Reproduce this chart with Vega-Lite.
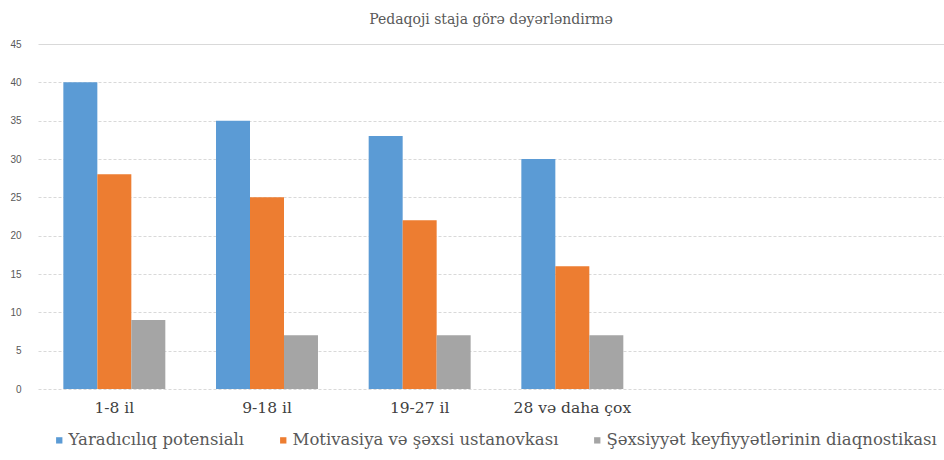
{
  "$schema": "https://vega.github.io/schema/vega-lite/v6.json",
  "width": 906,
  "height": 345,
  "autosize": {"type": "none"},
  "padding": {"left": 38, "top": 44, "right": 0, "bottom": 71},
  "background": "white",
  "title": {
    "text": "Pedaqoji staja görə dəyərləndirmə",
    "font": "DejaVu Serif",
    "fontSize": 14,
    "fontWeight": "normal",
    "color": "#595959",
    "offset": -2,
    "baseline": "bottom",
    "anchor": "middle",
    "frame": "group"
  },
  "data": {
    "values": [
      {"staj": "1-8 il", "kriteriya": "Yaradıcılıq potensialı", "deger": 40},
      {"staj": "1-8 il", "kriteriya": "Motivasiya və şəxsi ustanovkası", "deger": 28},
      {"staj": "1-8 il", "kriteriya": "Şəxsiyyət keyfiyyətlərinin diaqnostikası", "deger": 9},
      {"staj": "9-18 il", "kriteriya": "Yaradıcılıq potensialı", "deger": 35},
      {"staj": "9-18 il", "kriteriya": "Motivasiya və şəxsi ustanovkası", "deger": 25},
      {"staj": "9-18 il", "kriteriya": "Şəxsiyyət keyfiyyətlərinin diaqnostikası", "deger": 7},
      {"staj": "19-27 il", "kriteriya": "Yaradıcılıq potensialı", "deger": 33},
      {"staj": "19-27 il", "kriteriya": "Motivasiya və şəxsi ustanovkası", "deger": 22},
      {"staj": "19-27 il", "kriteriya": "Şəxsiyyət keyfiyyətlərinin diaqnostikası", "deger": 7},
      {"staj": "28 və daha çox", "kriteriya": "Yaradıcılıq potensialı", "deger": 30},
      {"staj": "28 və daha çox", "kriteriya": "Motivasiya və şəxsi ustanovkası", "deger": 16},
      {"staj": "28 və daha çox", "kriteriya": "Şəxsiyyət keyfiyyətlərinin diaqnostikası", "deger": 7}
    ]
  },
  "mark": {"type": "bar"},
  "encoding": {
    "x": {
      "field": "staj",
      "type": "nominal",
      "sort": null,
      "scale": {
        "domain": ["1-8 il", "9-18 il", "19-27 il", "28 və daha çox", "_5", "_6"],
        "range": [0, 916],
        "paddingInner": 0.332,
        "paddingOuter": 0.166
      },
      "axis": {
        "title": null,
        "domain": false,
        "ticks": false,
        "grid": false,
        "labelAngle": 0,
        "labelFont": "DejaVu Serif",
        "labelFontSize": 15.5,
        "labelColor": "#404040",
        "labelPadding": 11,
        "labelOverlap": false,
        "labelLimit": 0,
        "labelExpr": "indexof(datum.label, '_') === 0 ? '' : datum.label"
      }
    },
    "xOffset": {
      "field": "kriteriya",
      "type": "nominal",
      "sort": ["Yaradıcılıq potensialı", "Motivasiya və şəxsi ustanovkası", "Şəxsiyyət keyfiyyətlərinin diaqnostikası"],
      "scale": {"paddingInner": 0, "paddingOuter": 0}
    },
    "y": {
      "field": "deger",
      "type": "quantitative",
      "scale": {"domain": [0, 45], "nice": false},
      "axis": {
        "title": null,
        "values": [0, 5, 10, 15, 20, 25, 30, 35, 40, 45],
        "domain": false,
        "ticks": false,
        "labelPadding": 17,
        "labelFont": "Liberation Sans",
        "labelFontSize": 10,
        "labelColor": "#595959",
        "gridColor": "#d9d9d9",
        "gridDash": {"condition": {"test": "datum.value === 45", "value": []}, "value": [3, 2]}
      }
    },
    "color": {
      "field": "kriteriya",
      "type": "nominal",
      "scale": {
        "domain": ["Yaradıcılıq potensialı", "Motivasiya və şəxsi ustanovkası", "Şəxsiyyət keyfiyyətlərinin diaqnostikası"],
        "range": ["#5b9bd5", "#ed7d31", "#a5a5a5"]
      },
      "legend": {
        "orient": "none",
        "legendX": 13,
        "legendY": 388,
        "direction": "horizontal",
        "title": null,
        "symbolType": "square",
        "symbolSize": 40,
        "symbolStrokeWidth": 0,
        "labelFont": "DejaVu Serif",
        "labelFontSize": 16.5,
        "labelColor": "#595959",
        "labelOffset": 1,
        "columnPadding": 30,
        "labelLimit": 0,
        "padding": 0
      }
    }
  },
  "config": {"view": {"stroke": null}}
}
